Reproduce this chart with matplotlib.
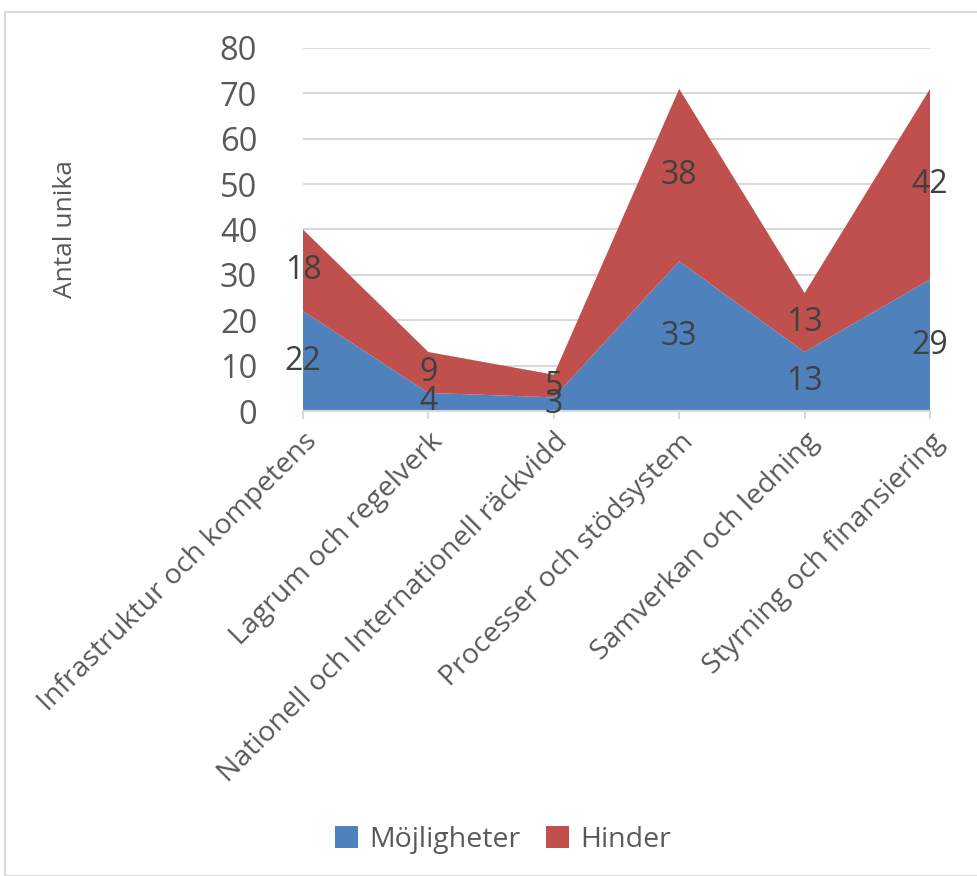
import matplotlib
matplotlib.use("Agg")
import matplotlib.pyplot as plt
from matplotlib.patches import Rectangle
import numpy as np

categories = [
    "Infrastruktur och kompetens",
    "Lagrum och regelverk",
    "Nationell och Internationell räckvidd",
    "Processer och stödsystem",
    "Samverkan och ledning",
    "Styrning och finansiering",
]
mojligheter = [22, 4, 3, 33, 13, 29]
hinder = [18, 9, 5, 38, 13, 42]
yticks = [0, 10, 20, 30, 40, 50, 60, 70, 80]

BLUE = "#4F81BD"
RED = "#C0504D"
TICK_COLOR = "#595959"
LABEL_COLOR = "#404040"
GRID_COLOR = "#D9D9D9"

plt.rcParams["font.family"] = ["Open Sans", "DejaVu Sans"]

fig = plt.figure(figsize=(9.77, 8.76), dpi=100)
W, H = 977, 876

# chart frame
fig.patches.append(Rectangle((5 / W, 0), 1, 1 - 12 / H, transform=fig.transFigure,
                             fill=False, edgecolor=GRID_COLOR, linewidth=1.5))

ax = fig.add_axes([303 / W, (H - 411) / H, (930 - 303) / W, (411 - 48) / H])

x = np.arange(len(categories))
m = np.array(mojligheter)
h = np.array(hinder)
ax.stackplot(x, m, h, colors=[BLUE, RED], labels=["Möjligheter", "Hinder"],
             edgecolor="none", zorder=2)

ax.set_xlim(0, len(categories) - 1)
ax.set_ylim(0, 80)
ax.set_yticks(yticks)
ax.set_yticklabels([str(t) for t in yticks], fontsize=23.5, color=TICK_COLOR)
ax.yaxis.grid(True, color=GRID_COLOR, linewidth=1.5, zorder=0)
ax.set_axisbelow(True)
ax.tick_params(axis="y", length=0, pad=33)

ax.set_xticks(x)
ax.set_xticklabels(categories, rotation=45, ha="right", rotation_mode="anchor",
                   fontsize=20.5, color=TICK_COLOR)
ax.tick_params(axis="x", length=6, color=GRID_COLOR, width=1.5, pad=6)

for side in ["top", "right", "left"]:
    ax.spines[side].set_visible(False)
ax.spines["bottom"].set_color(GRID_COLOR)
ax.spines["bottom"].set_linewidth(1.5)

# data labels centred in each band
for xi, mv, hv in zip(x, m, h):
    ax.text(xi, mv / 2, str(mv), ha="center", va="center", fontsize=23,
            color=LABEL_COLOR, zorder=5, clip_on=False)
    ax.text(xi, mv + hv / 2, str(hv), ha="center", va="center", fontsize=23,
            color=LABEL_COLOR, zorder=5, clip_on=False)

fig.text(65 / W, 1 - 229 / H, "Antal unika", rotation=90, ha="center", va="center",
         fontsize=19, color=TICK_COLOR)

handles, labels = ax.get_legend_handles_labels()
fig.legend(handles, labels, loc="center", bbox_to_anchor=(503 / W, 1 - 840 / H),
           ncol=2, frameon=False, fontsize=20.5, labelcolor=TICK_COLOR,
           handlelength=0.8, handleheight=0.8, handletextpad=0.4, columnspacing=0.9)

fig.savefig("out.png", dpi=100)
